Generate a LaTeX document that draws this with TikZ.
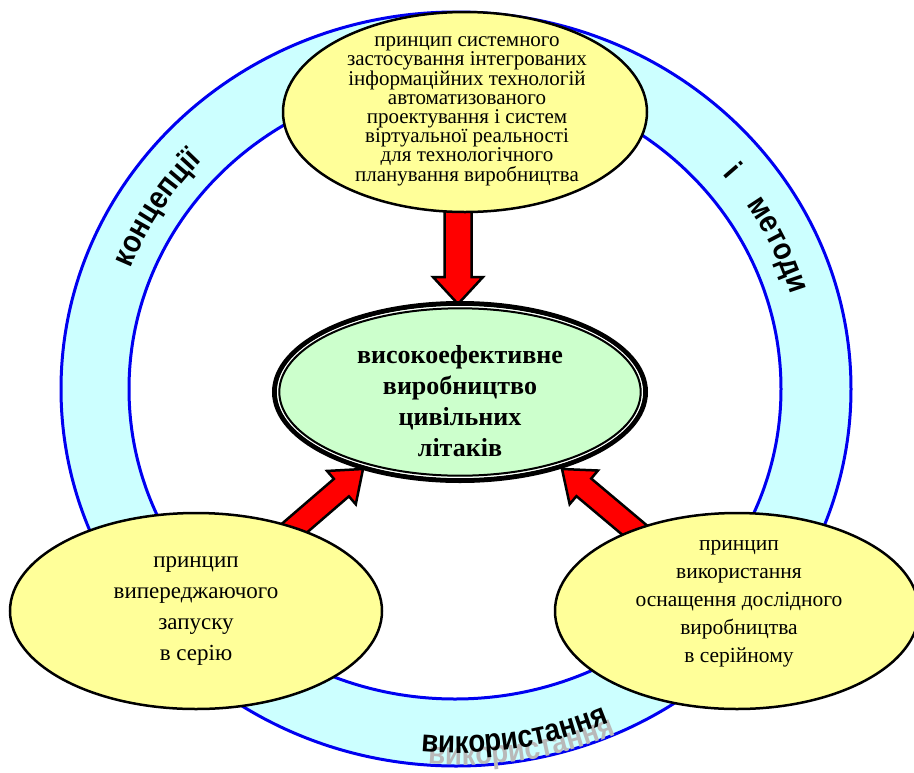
\documentclass[tikz,border=0pt]{standalone}
\usepackage{fontspec}
\setmainfont{Liberation Serif}
\newfontfamily\ringfam{Liberation Sans}[FakeStretch=0.88]
\usetikzlibrary{shapes.geometric,calc,decorations.text}
\definecolor{ringfill}{HTML}{CCFFFF}
\definecolor{ringline}{HTML}{0000F0}
\definecolor{yell}{HTML}{FFFF99}
\definecolor{grn}{HTML}{CCFFCC}
\definecolor{arrred}{HTML}{FF0000}
\newcommand\ringf{\ringfam\bfseries\fontsize{31.5}{33}\selectfont}
\newcommand\blockarr[5]{%
  \coordinate (hb) at ($(#2)!#5!(#1)$);
  \filldraw[arrowbox] ($(#1)!#3!90:(#2)$) -- ($(hb)!#3!90:(#2)$) -- ($(hb)!#4!90:(#2)$) -- (#2) -- ($(hb)!#4!-90:(#2)$) -- ($(hb)!#3!-90:(#2)$) -- ($(#1)!#3!-90:(#2)$) -- cycle;}
\begin{document}
\begin{tikzpicture}[x=1pt,y=-1pt,
  ringedge/.style={draw=ringline, line width=3pt},
  arrowbox/.style={fill=arrred, draw=black, line width=2.5pt, line join=miter},
  yellowell/.style={ellipse, draw=black, line width=2.5pt, fill=yell, inner sep=0pt},
  ytext/.style={align=center, inner sep=0pt},
  ringtext/.style={decorate, decoration={text along path, text align=center, text={|\ringf|#1}}},
  shadowtext/.style={decorate, decoration={text along path, text align=center, text color=gray!55, text={|\ringf|#1}}}
]
\useasboundingbox (0,0) rectangle (914,772);
\clip (0,0) rectangle (914,772);
\fill[white] (0,0) rectangle (914,772);
% ring
\coordinate (rc) at (456,389);
\fill[ringfill, even odd rule] (rc) ellipse [x radius=395, y radius=377] (455,389) ellipse [x radius=326, y radius=310];
\draw[ringedge] (rc) ellipse [x radius=395, y radius=377];
\draw[ringedge] (455,389) ellipse [x radius=326, y radius=310];
% ring texts
\path[ringtext={концепції}] ($(rc)+(182:349 and 332)$) arc[start angle=182, end angle=242, x radius=349, y radius=332];
\path[ringtext={і}] ($(rc)+(310:349 and 332)$) arc[start angle=310, end angle=331, x radius=349, y radius=332];
\path[ringtext={методи}] ($(rc)+(319:349 and 332)$) arc[start angle=319, end angle=351, x radius=349, y radius=332];
\path[shadowtext={використання}] ($(rc)+(7,12)+(100.8:384 and 364)$) arc[start angle=100.8, end angle=60.8, x radius=384, y radius=364];
\path[ringtext={використання}] ($(rc)+(100.8:384 and 364)$) arc[start angle=100.8, end angle=60.8, x radius=384, y radius=364];
% arrows
\coordinate (a1t) at (458,195);
\coordinate (a1h) at (458,304);
\coordinate (a2t) at (276,544);
\coordinate (a2h) at (363,469);
\coordinate (a3t) at (650,543);
\coordinate (a3h) at (562,469);
\blockarr{a1t}{a1h}{13.5pt}{25pt}{27pt}
\blockarr{a2t}{a2h}{11.5pt}{22pt}{28.5pt}
\blockarr{a3t}{a3h}{11.5pt}{22pt}{28.5pt}
% ellipses
\node[yellowell, minimum width=364pt, minimum height=200pt] (top) at (465,112) {};
\node[yellowell, minimum width=372pt, minimum height=196pt] (left) at (196,611) {};
\node[yellowell, minimum width=364pt, minimum height=196pt] (right) at (737,611) {};
\node[ellipse, fill=grn, inner sep=0pt, minimum width=372pt, minimum height=178pt] (hub) at (460,392) {};
\draw[black, line width=5pt] (hub.center) ellipse [x radius=185.5, y radius=88.5];
\draw[white, line width=1.3pt] (hub.center) ellipse [x radius=182.3, y radius=85.3];
\draw[black, line width=2pt] (hub.center) ellipse [x radius=180.7, y radius=83.7];
% texts
\node[ytext, font=\fontsize{21}{19}\selectfont] (toptext) at (467,111) {принцип системного\\застосування інтегрованих\\інформаційних технологій\\автоматизованого\\проектування і систем\\віртуальної реальності\\для технологічного\\планування виробництва};
\node[ytext, font=\fontsize{23}{31}\selectfont] (lefttext) at (196,611) {принцип\\випереджаючого\\запуску\\в серію};
\node[ytext, font=\fontsize{21.5}{28}\selectfont] (righttext) at (739,604) {принцип\\використання\\оснащення дослідного\\виробництва\\в серійному};
\node[ytext, font=\bfseries\fontsize{26}{31}\selectfont] (hubtext) at (460,401) {високоефективне\\виробництво\\цивільних\\літаків};
\end{tikzpicture}
\end{document}
